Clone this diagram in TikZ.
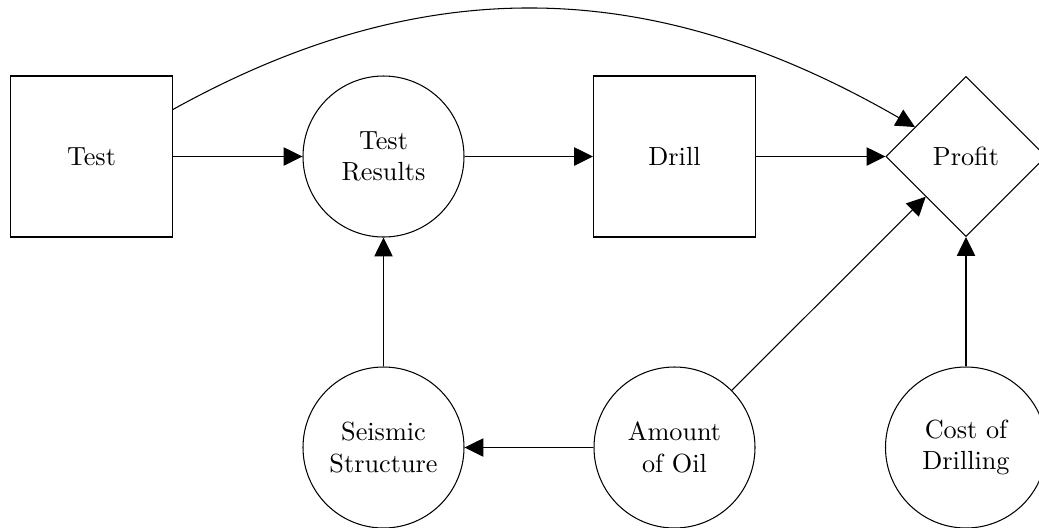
\documentclass[tikz,border=0pt]{standalone}
\usetikzlibrary{shapes.geometric,arrows.meta}
\newdimen\pxu
\pxu=0.38114pt
\tikzset{
  decisionbox/.style={draw, rectangle, minimum width=162\pxu, minimum height=161\pxu, inner sep=0pt},
  chancenode/.style={draw, circle, minimum size=161\pxu, inner sep=0pt, align=center},
  valuenode/.style={draw, diamond, aspect=1, minimum width=160\pxu, minimum height=160\pxu, inner sep=0pt},
  link/.style={-{Triangle[length=7.2pt,width=7pt]}, line width=0.4pt}
}
\begin{document}
\begin{tikzpicture}[x=\pxu, y=-\pxu]
  \useasboundingbox (0,0) rectangle (1039,527);
  % top row
  \node[decisionbox] (test) at (91.5,156.5) {Test};
  \node[chancenode] (results) at (383.5,156.5) {Test\\Results};
  \node[decisionbox] (drill) at (674.5,156.5) {Drill};
  \node[valuenode] (profit) at (966,156.5) {Profit};
  % bottom row
  \node[chancenode] (seismic) at (383.5,447.5) {Seismic\\Structure};
  \node[chancenode] (oil) at (674.5,447.5) {Amount\\of Oil};
  \node[chancenode] (cost) at (966,447.5) {Cost of\\Drilling};
  % influences
  \draw[link] (test) -- (results);
  \draw[link] (results) -- (drill);
  \draw[link] (drill) -- (profit);
  \draw[link] (seismic) -- (results);
  \draw[link] (oil) -- (seismic);
  \draw[link] (oil) -- (profit);
  \draw[link] (cost) -- (profit);
  % y axis points down, so the control directions are mirrored
  \draw[link] (test.30) .. controls +(-29:295) and +(-150:295) .. (profit.150);
\end{tikzpicture}
\end{document}
